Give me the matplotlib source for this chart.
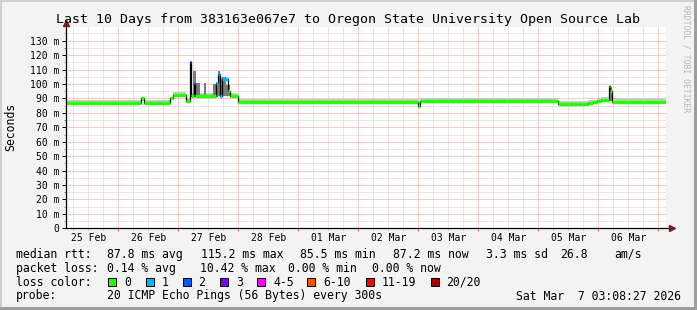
import numpy as np
import pandas as pd
import matplotlib
matplotlib.use("Agg")
import matplotlib.pyplot as plt
import matplotlib.dates as mdates
from matplotlib.ticker import MultipleLocator, FuncFormatter
from matplotlib.patches import Rectangle
import matplotlib.transforms as mtrans

W, H = 697, 310
MONO = "DejaVu Sans Mono"

# median rtt, value holds until next change point
med_times = ["2026-02-25 03:08", "2026-02-26 09:12", "2026-02-26 10:12", "2026-02-26 20:48",
             "2026-02-26 22:00", "2026-02-27 03:12", "2026-02-27 04:36", "2026-02-27 05:00",
             "2026-02-27 06:12", "2026-02-27 06:36", "2026-02-27 15:00", "2026-02-27 16:00",
             "2026-02-27 16:36", "2026-02-27 17:24", "2026-02-27 20:00", "2026-02-27 20:48",
             "2026-02-28 00:00", "2026-03-03 00:00", "2026-03-03 00:36", "2026-03-05 08:00",
             "2026-03-05 20:00", "2026-03-05 22:00", "2026-03-05 23:36", "2026-03-06 01:12",
             "2026-03-06 02:48", "2026-03-06 04:12", "2026-03-06 04:48", "2026-03-06 05:24"]
med_ms = [87.0, 90.3, 86.7, 90.0,
          92.3, 88.4, 115.2, 91.8,
          101.0, 91.8, 100.5, 107.0,
          92.0, 103.5, 95.0, 91.8,
          87.8, 85.0, 88.0, 85.8,
          86.6, 87.5, 88.5, 89.2,
          88.6, 98.5, 95.0, 87.8]
med_loss = [0, 0, 0, 0,
            0, 0, 3, 0,
            1, 0, 1, 1,
            1, 1, 0, 0,
            0, 0, 0, 0,
            0, 0, 0, 0,
            0, 0, 0, 0]

# smoke (spread of the 20 pings)
smoke_times = ["2026-02-25 03:08", "2026-02-26 09:12", "2026-02-26 10:12", "2026-02-26 20:48",
               "2026-02-26 22:00", "2026-02-27 03:12", "2026-02-27 04:36", "2026-02-27 05:00",
               "2026-02-27 05:53", "2026-02-27 07:12", "2026-02-27 08:48", "2026-02-27 10:24",
               "2026-02-27 11:12", "2026-02-27 14:00", "2026-02-27 16:00", "2026-02-27 16:48",
               "2026-02-27 17:36", "2026-02-27 19:12", "2026-02-27 20:48", "2026-02-28 00:00",
               "2026-03-03 00:00", "2026-03-03 00:36", "2026-03-05 08:00", "2026-03-05 20:00",
               "2026-03-05 23:36", "2026-03-06 01:12", "2026-03-06 04:12", "2026-03-06 05:24"]
smoke_lo = [86.3, 88.5, 86.0, 89.0,
            91.3, 86.8, 88.5, 91.0,
            91.0, 91.0, 91.0, 91.0,
            91.0, 91.0, 91.5, 91.5,
            92.0, 91.5, 91.0, 87.0,
            84.8, 87.2, 85.2, 86.0,
            87.5, 88.5, 88.0, 87.2]
smoke_hi = [89.0, 91.0, 88.8, 91.0,
            94.2, 90.0, 112.0, 93.8,
            109.0, 100.7, 93.8, 101.0,
            93.8, 100.0, 109.0, 104.0,
            105.0, 99.0, 94.0, 89.8,
            88.5, 90.0, 88.0, 89.0,
            90.5, 91.0, 98.0, 90.0]

t_start = "2026-02-25 03:08"
t_end = "2026-03-07 03:08"

day_labels = ["25 Feb", "26 Feb", "27 Feb", "28 Feb", "01 Mar",
              "02 Mar", "03 Mar", "04 Mar", "05 Mar", "06 Mar"]

loss_names = ["0", "1", "2", "3", "4-5", "6-10", "11-19", "20/20"]
loss_colors = ["#26ff00", "#00b8ff", "#0059ff", "#7e00ff",
               "#ff00ff", "#ff5500", "#ff0000", "#a10000"]
loss_upper = [0, 1, 2, 3, 5, 10, 19, 20]

title = "Last 10 Days from 383163e067e7 to Oregon State University Open Source Lab"

legend_rows = [
    [("median rtt:", 16), ("87.8 ms avg", 107), ("115.2 ms max", 201), ("85.5 ms min", 300),
     ("87.2 ms now", 393), ("3.3 ms sd", 486), ("26.8", 560), ("am/s", 614)],
    [("packet loss:", 16), ("0.14 % avg", 107), ("10.42 % max", 200), ("0.00 % min", 288),
     ("0.00 % now", 372)],
]
swatch_x = [108, 145.5, 182.5, 220, 257, 307, 365.5, 430.5]
probe_text = "20 ICMP Echo Pings (56 Bytes) every 300s"
stamp_text = "Sat Mar  7 03:08:27 2026"


def loss_class(n):
    for i, up in enumerate(loss_upper):
        if n <= up:
            return i
    return len(loss_upper) - 1


def fx(x):
    return x / W


def fy(y):
    return 1 - y / H


fig = plt.figure(figsize=(W / 100, H / 100), dpi=100, facecolor="#f3f3f3")
ax = fig.add_axes([fx(66), fy(228.3), 600 / W, (228.3 - 27) / H])
ax.set_facecolor("white")

# smoke
st = mdates.date2num(pd.to_datetime(smoke_times + [t_end]))
lo = np.array(smoke_lo + [smoke_lo[-1]])
hi = np.array(smoke_hi + [smoke_hi[-1]])
ax.fill_between(st, lo, hi, step="post", color="#c9c9c9", lw=0, zorder=2)
heavy_hi = np.where(hi - lo > 6, hi, lo)
ax.fill_between(st, lo, heavy_hi, step="post", color="#7a7a7a", lw=0, zorder=2)

# median: thin black step line, loss colour as flat bands per step
mt = mdates.date2num(pd.to_datetime(med_times + [t_end]))
mv = np.array(med_ms + [med_ms[-1]], dtype=float)
ax.step(mt, mv, where="post", color="black", lw=0.9, zorder=3)
seg_cols = [loss_colors[loss_class(n)] for n in med_loss]
ax.hlines(med_ms, mt[:-1], mt[1:], colors=seg_cols, lw=2.5, zorder=4)

ax.set_xlim(mdates.date2num(pd.Timestamp(t_start)), mdates.date2num(pd.Timestamp(t_end)))
ax.set_ylim(0, (228.3 - 27) / 1.443)

ax.xaxis.set_major_locator(mdates.DayLocator())
ax.xaxis.set_minor_locator(mdates.HourLocator(byhour=[6, 12, 18]))
ax.xaxis.set_major_formatter(FuncFormatter(lambda v, p: ""))
ax.yaxis.set_major_locator(MultipleLocator(10))
ax.yaxis.set_minor_locator(MultipleLocator(5))
ax.yaxis.set_major_formatter(FuncFormatter(lambda v, p: "0" if v == 0 else f"{v:.0f} m"))

dots = (0, (1, 1))
ax.grid(which="major", color="#f29a9a", ls=dots, lw=0.72, zorder=1)
ax.grid(which="minor", color="#cfcfcf", ls=dots, lw=0.72, zorder=1)
ax.set_axisbelow(True)

for s in ax.spines.values():
    s.set_visible(False)
ax.tick_params(axis="y", which="major", length=3, width=0.7, color="black", pad=2, labelsize=7)
ax.tick_params(axis="y", which="minor", length=1.5, width=0.7, color="#999999")
ax.tick_params(axis="x", which="major", length=2, width=0.7, color="#e06060")
ax.tick_params(axis="x", which="minor", length=1.5, width=0.7, color="#bbbbbb")
for lab in ax.get_yticklabels():
    lab.set_family(MONO)

# day labels at noon
noon = pd.date_range("2026-02-25 12:00", periods=len(day_labels), freq="D")
tr = mtrans.blended_transform_factory(ax.transData, ax.transAxes)
for d, lab in zip(noon, day_labels):
    ax.text(mdates.date2num(d), -0.047, lab, transform=tr, ha="center", va="center",
            fontsize=7, family=MONO)

# axis lines with arrows
ax.plot([0, 1.008], [0, 0], transform=ax.transAxes, color="black", lw=0.9, clip_on=False, zorder=5)
ax.plot([0, 0], [0, 1.02], transform=ax.transAxes, color="black", lw=0.9, clip_on=False, zorder=5)
ax.plot([1.01], [0], transform=ax.transAxes, marker=">", ms=4, color="#7a1a1a", clip_on=False, zorder=6)
ax.plot([0], [1.022], transform=ax.transAxes, marker="^", ms=4, color="#7a1a1a", clip_on=False, zorder=6)

# texts
fig.text(fx(348), fy(19.3), title, ha="center", va="center", fontsize=9.5, family=MONO)
fig.text(fx(11), fy(127), "Seconds", rotation=90, ha="center", va="center", fontsize=8.3, family=MONO)
fig.text(fx(686), fy(59), "RRDTOOL / TOBI OETIKER", rotation=270, ha="center", va="center",
         fontsize=5.8, family=MONO, color="#b5b5b5")

row_y = [254.3, 268.3, 282.3, 296]
for row, yy in zip(legend_rows, row_y):
    for txt, xx in row:
        fig.text(fx(xx), fy(yy), txt, ha="left", va="center", fontsize=8.3, family=MONO)

fig.text(fx(16), fy(row_y[2]), "loss color:", ha="left", va="center", fontsize=8.3, family=MONO)
for xx, name, col in zip(swatch_x, loss_names, loss_colors):
    fig.add_artist(Rectangle((fx(xx), fy(row_y[2] + 4)), 8 / W, 8 / H, transform=fig.transFigure,
                             facecolor=col, edgecolor="black", lw=0.7))
    fig.text(fx(xx + 16), fy(row_y[2]), name, ha="left", va="center", fontsize=8.3, family=MONO)

fig.text(fx(16), fy(row_y[3]), "probe:", ha="left", va="center", fontsize=8.3, family=MONO)
fig.text(fx(107), fy(row_y[3]), probe_text, ha="left", va="center", fontsize=8.3, family=MONO)
fig.text(fx(681), fy(row_y[3]), stamp_text, ha="right", va="center", fontsize=8.3, family=MONO)

# frame shading
fig.add_artist(Rectangle((0, 1 - 2 / H), 1, 2 / H, transform=fig.transFigure, color="#cfcfcf", lw=0))
fig.add_artist(Rectangle((0, 0), 2 / W, 1, transform=fig.transFigure, color="#cfcfcf", lw=0))
fig.add_artist(Rectangle((0, 0), 1, 3 / H, transform=fig.transFigure, color="#9e9e9e", lw=0))
fig.add_artist(Rectangle((1 - 3 / W, 0), 3 / W, 1, transform=fig.transFigure, color="#9e9e9e", lw=0))

fig.savefig("out.png", dpi=100, facecolor=fig.get_facecolor())
